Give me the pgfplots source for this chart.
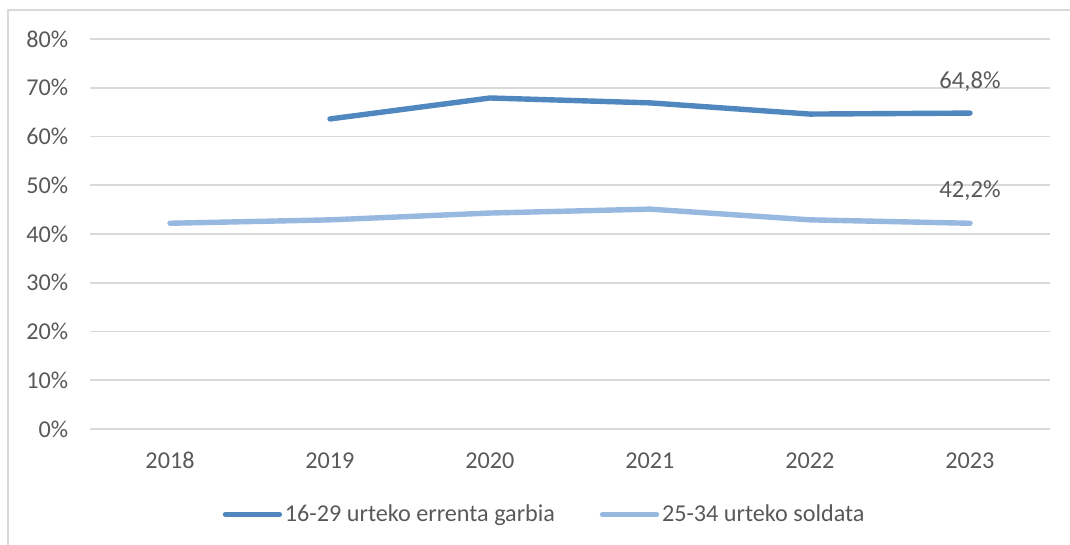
\documentclass[border=0pt]{standalone}
\usepackage{pgfplots}
\pgfplotsset{compat=1.18}
\usepackage{fontspec}
\setmainfont{Carlito}
\definecolor{serieDark}{RGB}{80,135,190}
\definecolor{serieLight}{RGB}{151,185,224}
\definecolor{gridGray}{RGB}{217,217,217}
\definecolor{txtGray}{RGB}{89,89,89}

\begin{document}
\begin{tikzpicture}[x=0.25mm,y=0.25mm]
\useasboundingbox (0,0) rectangle (1070,545);
\draw[gridGray, line width=0.5mm] (8,0) -- (8,535) -- (1070,535);
\begin{axis}[
    at={(22.5mm,29mm)}, anchor=south west,
    scale only axis,
    width=240mm, height=97.5mm,
    xmin=2017.5, xmax=2023.5,
    ymin=0, ymax=80,
    xtick={2018,...,2023},
    ytick={0,10,...,80},
    /pgf/number format/1000 sep={},
    /pgf/number format/assume math mode=true,
    yticklabel={\pgfmathprintnumber{\tick}\%},
    axis line style={draw=none},
    tick style={draw=none},
    ymajorgrids=true,
    grid style={gridGray, line width=0.45mm},
    ticklabel style={font=\fontsize{17.2}{19}\selectfont, text=txtGray},
    yticklabel style={xshift=-4.2mm},
    xticklabel style={yshift=-4.6mm},
    legend style={at={(0.474,-0.219)}, anchor=center, draw=none, fill=none,
        font=\fontsize{17.2}{19}\selectfont, text=txtGray,
        /tikz/every even column/.append style={column sep=10.5mm}},
    legend columns=2,
    legend image code/.code={\draw[#1] (0mm,0mm) -- (13.5mm,0mm);},
    clip=false,
]
\addplot[serieDark, line width=1.35mm, line cap=round, line join=round]
    coordinates {(2019,63.6) (2020,67.9) (2021,66.9) (2022,64.6) (2023,64.8)};
\addlegendentry{16-29 urteko errenta garbia}
\addplot[serieLight, line width=1.35mm, line cap=round, line join=round]
    coordinates {(2018,42.2) (2019,42.9) (2020,44.3) (2021,45.1) (2022,42.9) (2023,42.2)};
\addlegendentry{25-34 urteko soldata}
\node[text=txtGray, font=\fontsize{17.5}{19}\selectfont] at (axis cs:2023,71.3) {64,8\%};
\node[text=txtGray, font=\fontsize{17.5}{19}\selectfont] at (axis cs:2023,48.9) {42,2\%};
\end{axis}
\end{tikzpicture}
\end{document}
